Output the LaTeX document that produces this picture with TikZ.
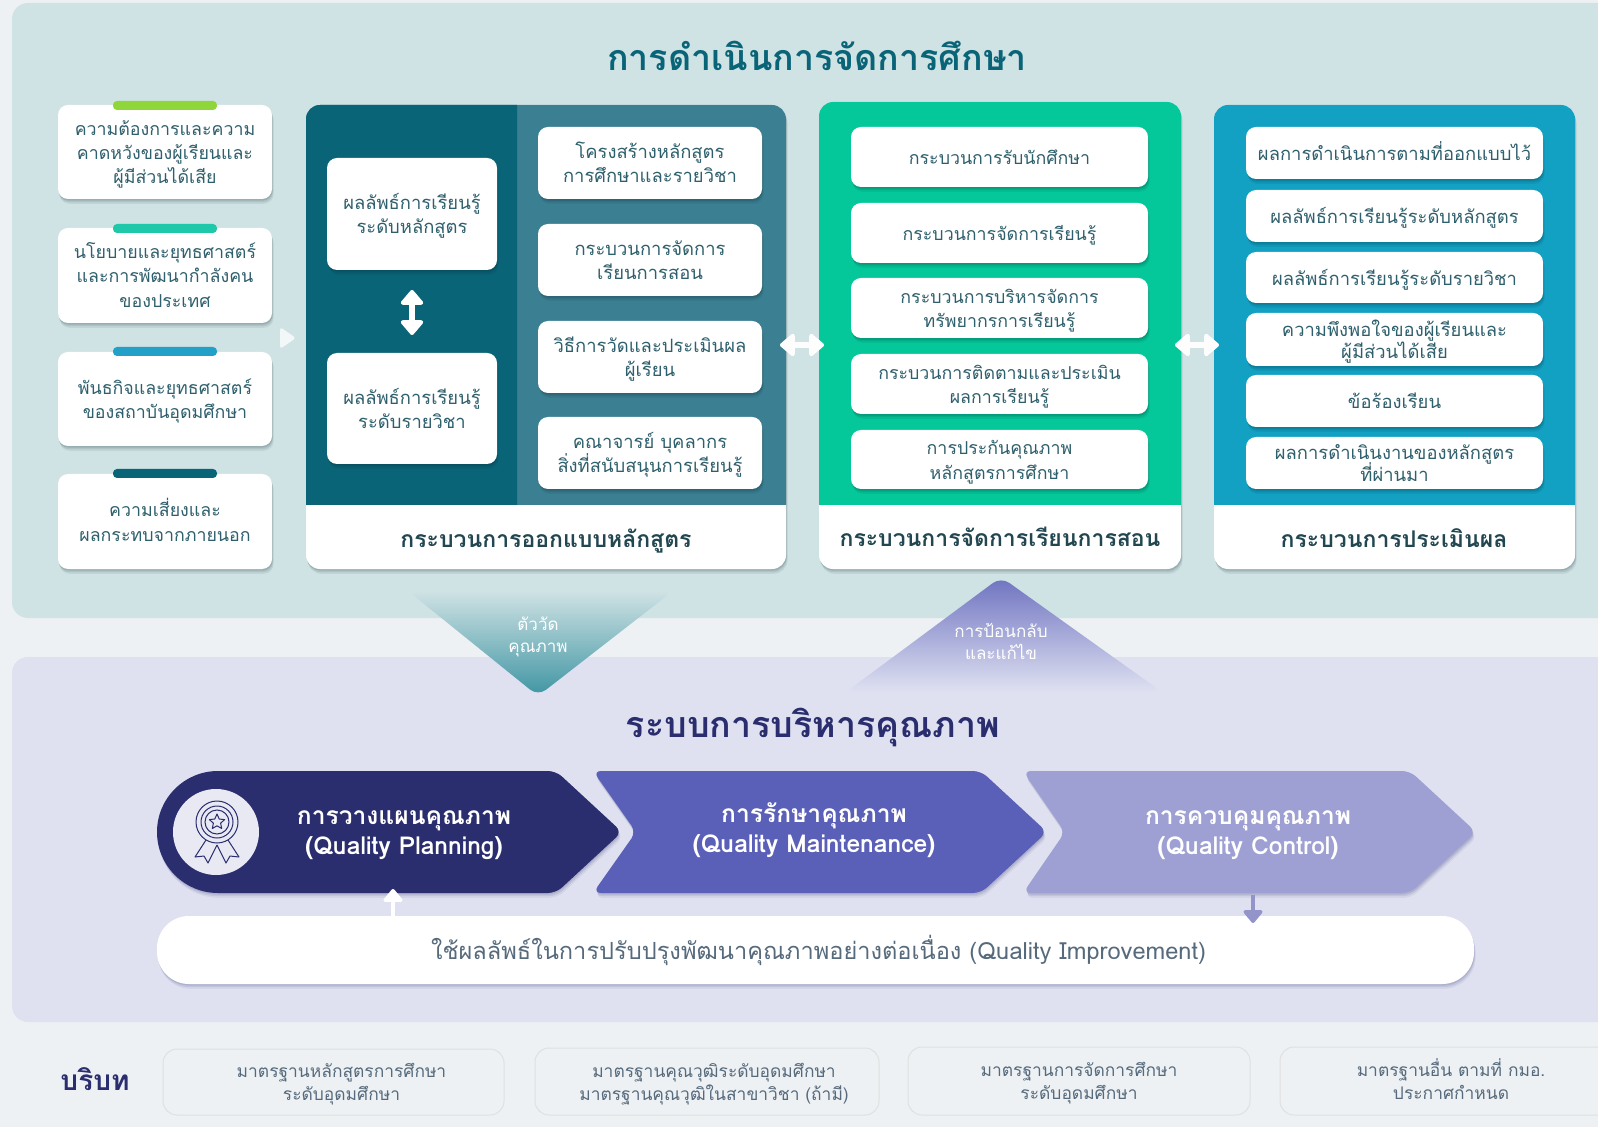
\documentclass[tikz,border=0pt]{standalone}
\usepackage{fontspec}
\newfontfamily\thaifont[Script=Thai]{Loma}
\usetikzlibrary{shadows,arrows.meta,shapes.geometric}
\definecolor{pagebg}{HTML}{EDF1F4}
\definecolor{toppanel}{HTML}{CFE2E4}
\definecolor{lowpanel}{HTML}{DFE1F1}
\definecolor{tealdark}{HTML}{0A6478}
\definecolor{tealmid}{HTML}{3B7F92}
\definecolor{tealtip}{HTML}{3F95A3}
\definecolor{mint}{HTML}{05C89A}
\definecolor{cyanb}{HTML}{12A0C3}
\definecolor{navy}{HTML}{2A2D6E}
\definecolor{violet}{HTML}{5A60B8}
\definecolor{lilac}{HTML}{9EA0D4}
\definecolor{bodytxt}{HTML}{2E5F6C}
\definecolor{greytxt}{HTML}{566A7C}
\definecolor{tabgreen}{HTML}{8FD63A}
\definecolor{tabmint}{HTML}{1FC8A8}
\definecolor{tabcyan}{HTML}{22A0C8}
\newcommand{\ftop}{\rule{0pt}{1.15em}}
\newcommand{\fbot}{\rule[-.31em]{0pt}{.31em}}
\tikzset{
  softshadow/.style={
    general shadow={shadow xshift=.8pt,shadow yshift=-2.4pt,fill=#1,opacity=.07},
    general shadow={shadow xshift=.5pt,shadow yshift=-1.6pt,fill=#1,opacity=.09},
    general shadow={shadow xshift=.3pt,shadow yshift=-.8pt,fill=#1,opacity=.12}},
  softshadow/.default=black!70!tealdark,
  bx/.style={inner sep=0pt,outer sep=0pt,align=center,rounded corners=5pt},
  card/.style={bx,fill=white,softshadow,text=bodytxt,
    font=\thaifont\fontsize{9.2}{12.1}\selectfont},
  cardn/.style={card,font=\thaifont\fontsize{8.9}{12.1}\selectfont},
  tab/.style={bx,rounded corners=2pt,fill=#1,font=\fontsize{1}{1}\selectfont},
  panelbox/.style={bx,fill=white,softshadow,rounded corners=7pt},
  caption/.style={inner sep=0pt,text=bodytxt!75!black,font=\thaifont\bfseries\fontsize{11.5}{13}\selectfont},
  bigtitle/.style={inner sep=0pt,font=\thaifont\bfseries\fontsize{17.9}{20}\selectfont},
  chevtxt/.style={inner sep=0pt,align=center,text=white,font=\thaifont\bfseries\fontsize{12.3}{14.8}\selectfont},
  tritxt/.style={inner sep=0pt,align=center,text=white,font=\thaifont\fontsize{8.5}{11}\selectfont},
  ctx/.style={bx,draw=black!12,line width=.5pt,text=greytxt,rounded corners=7pt,
    font=\thaifont\fontsize{8.7}{11.5}\selectfont},
  flowa/.style={{Triangle[width=13pt,length=8pt,round]}-{Triangle[width=13pt,length=8pt,round]},line width=2.8pt,white},
  flowup/.style={-{Triangle[width=11pt,length=7pt,round]},line width=2.2pt,#1},
}
\newcommand{\bxn}[7][]{%
  \pgfmathsetmacro\cxx{(#3+#5)/2}\pgfmathsetmacro\cyy{(#4+#6)/2}%
  \pgfmathsetmacro\wdd{(#5-#3)*.5}\pgfmathsetmacro\htt{(#6-#4)*.5}%
  \node[#1,minimum width=\wdd pt,minimum height=\htt pt] (#2) at (\cxx,\cyy) {\ftop #7\fbot};}
\begin{document}
\begin{tikzpicture}[x=.5pt,y=-.5pt]
\useasboundingbox (0,0) rectangle (1598,1127);
\clip (0,0) rectangle (1598,1127);
\fill[pagebg] (0,0) rectangle (1598,1127);
% big panels
\bxn[bx,fill=toppanel,rounded corners=8pt]{toparea}{12}{3}{1640}{618}{}
\bxn[bx,fill=lowpanel,rounded corners=8pt]{lowarea}{12}{657}{1640}{1022}{}
% feedback triangles
\shade[rounded corners=5pt,top color=toppanel,bottom color=tealtip]
  (408,591) -- (673,591) -- (538,696) -- cycle;
\shade[rounded corners=5pt,top color=violet!70!lilac,bottom color=lowpanel]
  (1001,577) -- (1162,692) -- (846,692) -- cycle;
\node[tritxt] (tq) at (538,637) {ตัววัด\\คุณภาพ};
\node[tritxt] (tf) at (1001,641) {การป้อนกลับ\\และแก้ไข};
% titles
\node[bigtitle,text=tealdark] (t1) at (817,56) {การดำเนินการจัดการศึกษา};
\node[bigtitle,text=navy] (t2) at (813,727) {ระบบการบริหารคุณภาพ};
% left inputs
\bxn[cardn]{in1}{58}{105}{272}{199}{ความต้องการและความ\\คาดหวังของผู้เรียนและ\\ผู้มีส่วนได้เสีย}
\bxn[cardn]{in2}{58}{228}{272}{323}{นโยบายและยุทธศาสตร์\\และการพัฒนากำลังคน\\ของประเทศ}
\bxn[cardn]{in3}{58}{352}{272}{446}{พันธกิจและยุทธศาสตร์\\ของสถาบันอุดมศึกษา}
\bxn[cardn]{in4}{58}{474}{272}{569}{ความเสี่ยงและ\\ผลกระทบจากภายนอก}
\bxn[tab=tabgreen]{tb1}{113}{101}{217}{110}{}
\bxn[tab=tabmint]{tb2}{113}{224}{217}{233}{}
\bxn[tab=tabcyan]{tb3}{113}{347}{217}{356}{}
\bxn[tab=tealdark]{tb4}{113}{469}{217}{478}{}
\fill[white,opacity=.75,rounded corners=1.5pt] (280,327) -- (296,338) -- (280,349) -- cycle;
% design panel
\bxn[panelbox]{design}{306}{105}{786}{569}{}
\fill[tealmid] (306,505) [rounded corners=7pt] -- (306,105) -- (786,105) [sharp corners] -- (786,505) -- cycle;
\fill[tealdark] (517,505) -- (306,505) [rounded corners=7pt] -- (306,105) [sharp corners] -- (517,105) -- cycle;
\node[caption] (c1) at (546,541) {กระบวนการออกแบบหลักสูตร};
\bxn[card]{lo1}{327}{158}{497}{270}{ผลลัพธ์การเรียนรู้\\ระดับหลักสูตร}
\bxn[card]{lo2}{327}{353}{497}{464}{ผลลัพธ์การเรียนรู้\\ระดับรายวิชา}
\bxn[card]{d1}{538}{127}{762}{199}{โครงสร้างหลักสูตร\\การศึกษาและรายวิชา}
\bxn[card]{d2}{538}{224}{762}{296}{กระบวนการจัดการ\\เรียนการสอน}
\bxn[card]{d3}{538}{321}{762}{393}{วิธีการวัดและประเมินผล\\ผู้เรียน}
\bxn[card]{d4}{538}{417}{762}{489}{คณาจารย์ บุคลากร\\สิ่งที่สนับสนุนการเรียนรู้}
\draw[flowa,shorten <=10pt,shorten >=9pt] (lo1.south) -- (lo2.north);
% teaching panel
\bxn[panelbox]{teach}{819}{102}{1181}{569}{}
\fill[mint] (819,505) [rounded corners=7pt] -- (819,102) -- (1181,102) [sharp corners] -- (1181,505) -- cycle;
\node[caption] (c2) at (1000,537) {กระบวนการจัดการเรียนการสอน};
\bxn[cardn]{m1}{851}{127}{1148}{187}{กระบวนการรับนักศึกษา}
\bxn[cardn]{m2}{851}{203}{1148}{263}{กระบวนการจัดการเรียนรู้}
\bxn[cardn]{m3}{851}{278}{1148}{338}{กระบวนการบริหารจัดการ\\ทรัพยากรการเรียนรู้}
\bxn[cardn]{m4}{851}{354}{1148}{414}{กระบวนการติดตามและประเมิน\\ผลการเรียนรู้}
\bxn[cardn]{m5}{851}{430}{1148}{489}{การประกันคุณภาพ\\หลักสูตรการศึกษา}
% evaluation panel
\bxn[panelbox]{evalp}{1214}{105}{1575}{569}{}
\fill[cyanb] (1214,505) [rounded corners=7pt] -- (1214,105) -- (1575,105) [sharp corners] -- (1575,505) -- cycle;
\node[caption] (c3) at (1394,538) {กระบวนการประเมินผล};
\bxn[card]{e1}{1246}{127}{1543}{179}{ผลการดำเนินการตามที่ออกแบบไว้}
\bxn[card]{e2}{1246}{190}{1543}{242}{ผลลัพธ์การเรียนรู้ระดับหลักสูตร}
\bxn[card]{e3}{1246}{252}{1543}{303}{ผลลัพธ์การเรียนรู้ระดับรายวิชา}
\bxn[card]{e4}{1246}{313}{1543}{366}{ความพึงพอใจของผู้เรียนและ\\[-1.2pt]ผู้มีส่วนได้เสีย}
\bxn[card]{e5}{1246}{375}{1543}{427}{ข้อร้องเรียน}
\bxn[card]{e6}{1246}{437}{1543}{489}{ผลการดำเนินงานของหลักสูตร\\[-1.2pt]ที่ผ่านมา}
% arrows between panels
\coordinate (ad) at (780,345); \coordinate (at) at (824,345);
\coordinate (bt) at (1175,345); \coordinate (be) at (1219,345);
\draw[flowa,white!95!toppanel] (ad) -- (at);
\draw[flowa,white!95!toppanel] (bt) -- (be);
% chevrons
\fill[lilac,softshadow=navy,rounded corners=4pt] (1023,771) -- (1410,771) -- (1476,832) -- (1410,893) -- (1023,893) -- (1065,832) -- cycle;
\fill[violet,softshadow=navy,rounded corners=4pt] (593,771) -- (981,771) -- (1047,832) -- (981,893) -- (593,893) -- (636,832) -- cycle;
\fill[navy,softshadow=navy] (218,771) [rounded corners=4pt] -- (556,771) -- (622,832) -- (556,893) [sharp corners] -- (218,893) arc[start angle=-90,end angle=-270,radius=61,y radius=-61] -- cycle;
\node[chevtxt] (q1) at (404,835) {การวางแผนคุณภาพ\\(Quality Planning)};
\node[chevtxt] (q2) at (814,830) {การรักษาคุณภาพ\\(Quality Maintenance)};
\node[chevtxt] (q3) at (1248,835) {การควบคุมคุณภาพ\\(Quality Control)};
% medal
\fill[black!3!lowpanel!60!white] (216,832) circle[radius=43];
\begin{scope}[navy,line width=.5pt]
\draw (217,822) circle[radius=21];
\draw (217,822) circle[radius=16];
\draw (217,822) circle[radius=12];
\begin{scope}[shift={(1,-4)}]
\draw[line join=round] (216,818) -- (218.2,823) -- (223.6,823.6) -- (219.6,827.2) -- (220.7,832.5) -- (216,829.8) -- (211.3,832.5) -- (212.4,827.2) -- (208.4,823.6) -- (213.8,823) -- cycle;
\end{scope}
\draw[line join=round] (206,840) -- (195,857) -- (204,856) -- (208,863) -- (217,845);
\draw[line join=round] (228,840) -- (239,857) -- (230,856) -- (226,863) -- (217,845);
\end{scope}
% improvement pill
\bxn[bx,fill=white,softshadow=navy,rounded corners=16pt,text=greytxt,font=\thaifont\fontsize{11.8}{13}\selectfont]{pill}{157}{916}{1474}{984}{\hspace*{3pt}ใช้ผลลัพธ์ในการปรับปรุงพัฒนาคุณภาพอย่างต่อเนื่อง (Quality Improvement)}
\coordinate (upa) at (393,916); \coordinate (upb) at (393,889);
\coordinate (dna) at (1253,895); \coordinate (dnb) at (1253,923);
\draw[flowup=white] (upa) -- (upb);
\draw[flowup=lilac!90!navy] (dna) -- (dnb);
% context row
\node[text=navy,inner sep=0pt,font=\thaifont\bfseries\fontsize{14}{16}\selectfont] (ctxl) at (95,1079) {บริบท};
\bxn[ctx]{s1}{163}{1049}{504}{1115}{\hspace*{8pt}มาตรฐานหลักสูตรการศึกษา\\\hspace*{8pt}ระดับอุดมศึกษา}
\bxn[ctx]{s2}{535}{1048}{879}{1115}{\hspace*{7pt}มาตรฐานคุณวุฒิระดับอุดมศึกษา\\\hspace*{7pt}มาตรฐานคุณวุฒิในสาขาวิชา (ถ้ามี)}
\bxn[ctx]{s3}{908}{1047}{1250}{1115}{มาตรฐานการจัดการศึกษา\\ระดับอุดมศึกษา}
\bxn[ctx]{s4}{1280}{1047}{1622}{1115}{มาตรฐานอื่น ตามที่ กมอ.\\ประกาศกำหนด}
\end{tikzpicture}
\end{document}
